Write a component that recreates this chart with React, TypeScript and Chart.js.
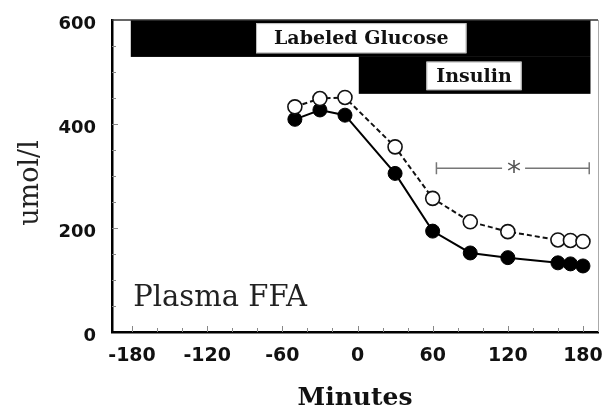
import React, { useEffect, useRef } from "react";
import { Chart, registerables } from "chart.js";

Chart.register(...registerables);

// ---- data ----
const minutes = [-50, -30, -10, 30, 60, 90, 120, 160, 170, 180];
const ffaOpen = [433, 449, 451, 356, 257, 212, 193, 177, 176, 174];
const ffaFilled = [409, 427, 417, 305, 194, 152, 143, 133, 131, 127];
const xTickValues = [-180, -120, -60, 0, 60, 120, 180];
const yTickValues = [0, 200, 400, 600];

// infusion bars: [xStart, xEnd, yLow, yHigh] in data units
const glucoseBar = [-181, 186, 529, 600];
const insulinBar = [1, 186, 458, 529];
// label boxes: [xStart, xEnd, yLow, yHigh]
const glucoseLabelBox = [-81, 87, 536, 594];
const insulinLabelBox = [55, 131, 465, 520];
const glucoseLabel = "Labeled Glucose";
const insulinLabel = "Insulin";
// significance bracket: [xStart, xEnd, y], asterisk at x
const sigBracket = [63, 185, 315];
const sigStarX = 125;
const panelLabel = "Plasma FFA";
const panelLabelPos = [-179, 50];
const yTitle = "umol/l";
const xTitle = "Minutes";

const overlayPlugin = {
  id: "overlay",
  beforeDatasetsDraw(chart: any) {
    const { ctx, scales, chartArea } = chart;
    const x = scales.x;
    const y = scales.y;
    const px = (v: number) => x.getPixelForValue(v);
    const py = (v: number) => y.getPixelForValue(v);
    ctx.save();
    // bars
    ctx.fillStyle = "#000";
    for (const b of [glucoseBar, insulinBar]) {
      ctx.fillRect(px(b[0]), py(b[3]), px(b[1]) - px(b[0]), py(b[2]) - py(b[3]));
    }
    // label boxes
    const labels: [number[], string][] = [
      [glucoseLabelBox, glucoseLabel],
      [insulinLabelBox, insulinLabel],
    ];
    for (const [b, t] of labels) {
      const x0 = px(b[0]);
      const x1 = px(b[1]);
      const y0 = py(b[3]);
      const y1 = py(b[2]);
      ctx.fillStyle = "#fff";
      ctx.fillRect(x0, y0, x1 - x0, y1 - y0);
      ctx.strokeStyle = "#bbb";
      ctx.lineWidth = 1;
      ctx.strokeRect(x0 + 0.5, y0 + 0.5, x1 - x0 - 1, y1 - y0 - 1);
      ctx.fillStyle = "#111";
      ctx.font = "bold 19px 'DejaVu Serif'";
      ctx.textAlign = "center";
      ctx.textBaseline = "middle";
      ctx.fillText(t, (x0 + x1) / 2, (y0 + y1) / 2 + 1);
    }
    // minor ticks inside
    ctx.strokeStyle = "#888";
    ctx.lineWidth = 1;
    for (let v = 50; v < 600; v += 50) {
      const yy = Math.round(py(v)) + 0.5;
      const len = v % 200 === 0 ? 6 : 4;
      ctx.beginPath();
      ctx.moveTo(chartArea.left, yy);
      ctx.lineTo(chartArea.left + len, yy);
      ctx.stroke();
    }
    for (let v = -180; v <= 180; v += 20) {
      const xx = Math.round(px(v)) + 0.5;
      const len = v % 60 === 0 ? 6 : 4;
      ctx.beginPath();
      ctx.moveTo(xx, chartArea.bottom);
      ctx.lineTo(xx, chartArea.bottom - len);
      ctx.stroke();
    }
    // significance bracket
    const sx0 = px(sigBracket[0]);
    const sx1 = px(sigBracket[1]);
    const sy = py(sigBracket[2]);
    const sStar = px(sigStarX);
    ctx.strokeStyle = "#777";
    ctx.lineWidth = 1.5;
    ctx.beginPath();
    ctx.moveTo(sx0, sy);
    ctx.lineTo(sStar - 12, sy);
    ctx.moveTo(sStar + 11, sy);
    ctx.lineTo(sx1, sy);
    ctx.moveTo(sx0, sy - 6);
    ctx.lineTo(sx0, sy + 6);
    ctx.moveTo(sx1, sy - 6);
    ctx.lineTo(sx1, sy + 6);
    ctx.stroke();
    ctx.fillStyle = "#555";
    ctx.font = "28px 'DejaVu Sans'";
    ctx.textAlign = "center";
    ctx.textBaseline = "middle";
    ctx.fillText("*", sStar, sy + 6);
    // panel label
    ctx.fillStyle = "#222";
    ctx.font = "29px 'DejaVu Serif'";
    ctx.textAlign = "left";
    ctx.textBaseline = "alphabetic";
    ctx.fillText(panelLabel, px(panelLabelPos[0]), py(panelLabelPos[1]));
    // frame top / right
    ctx.strokeStyle = "#333";
    ctx.lineWidth = 1.5;
    ctx.beginPath();
    ctx.moveTo(chartArea.left, chartArea.top);
    ctx.lineTo(chartArea.right, chartArea.top);
    ctx.stroke();
    ctx.strokeStyle = "#aaa";
    ctx.lineWidth = 1;
    ctx.beginPath();
    ctx.moveTo(chartArea.right + 0.5, chartArea.top);
    ctx.lineTo(chartArea.right + 0.5, chartArea.bottom);
    ctx.stroke();
    // y title
    ctx.save();
    ctx.translate(31, (py(200) + py(400)) / 2 + 7);
    ctx.rotate(-Math.PI / 2);
    ctx.fillStyle = "#222";
    ctx.font = "27px 'DejaVu Serif'";
    ctx.textAlign = "center";
    ctx.textBaseline = "middle";
    ctx.fillText(yTitle, 0, 0);
    ctx.restore();
    ctx.restore();
  },
};

export default function App() {
  const canvasRef = useRef<HTMLCanvasElement | null>(null);

  useEffect(() => {
    const canvas = canvasRef.current;
    if (!canvas) return;
    const chart = new Chart(canvas, {
      type: "line",
      data: {
        datasets: [
          {
            label: "open",
            data: minutes.map((m, i) => ({ x: m, y: ffaOpen[i] })),
            borderColor: "#111",
            borderWidth: 2,
            borderDash: [5, 3],
            pointRadius: 7,
            pointBorderWidth: 1.6,
            pointBackgroundColor: "#fff",
            pointBorderColor: "#111",
            tension: 0,
            fill: false,
          },
          {
            label: "filled",
            data: minutes.map((m, i) => ({ x: m, y: ffaFilled[i] })),
            borderColor: "#000",
            borderWidth: 2,
            pointRadius: 7,
            pointBorderWidth: 1,
            pointBackgroundColor: "#000",
            pointBorderColor: "#000",
            tension: 0,
            fill: false,
          },
        ],
      },
      options: {
        responsive: false,
        animation: false,
        layout: { padding: { top: 20, right: 9, left: 0, bottom: 0 } },
        plugins: {
          legend: { display: false },
          tooltip: { enabled: false },
        },
        scales: {
          x: {
            type: "linear",
            min: -196,
            max: 192,
            afterBuildTicks: (scale: any) => {
              scale.ticks = xTickValues.map((v) => ({ value: v }));
            },
            afterFit: (scale: any) => {
              scale.height = 79;
              scale.paddingLeft = 0;
              scale.paddingRight = 0;
            },
            grid: { display: false, drawTicks: false },
            border: { display: true, color: "#000", width: 2.5 },
            ticks: {
              color: "#111",
              padding: 13,
              maxRotation: 0,
              autoSkip: false,
              font: { family: "'DejaVu Sans'", size: 19, weight: "bold" },
            },
            title: {
              display: true,
              text: xTitle,
              color: "#111",
              padding: 0,
              font: { family: "'DejaVu Serif'", size: 25, weight: "bold", lineHeight: 1.04 },
            },
          },
          y: {
            min: 0,
            max: 600,
            afterBuildTicks: (scale: any) => {
              scale.ticks = yTickValues.map((v) => ({ value: v }));
            },
            afterFit: (scale: any) => {
              scale.width = 112;
              scale.paddingTop = 0;
              scale.paddingBottom = 0;
            },
            grid: { display: false, drawTicks: false },
            border: { display: true, color: "#000", width: 2.5 },
            ticks: {
              color: "#111",
              padding: 16,
              labelOffset: 4,
              font: { family: "'DejaVu Sans'", size: 18, weight: "bold" },
            },
          },
        },
      },
      plugins: [overlayPlugin],
    } as any);
    return () => chart.destroy();
  }, []);

  return (
    <div style={{ position: "absolute", left: 0, top: 0, width: 607, height: 411, background: "#fff" }}>
      <canvas ref={canvasRef} width={607} height={411} />
    </div>
  );
}
